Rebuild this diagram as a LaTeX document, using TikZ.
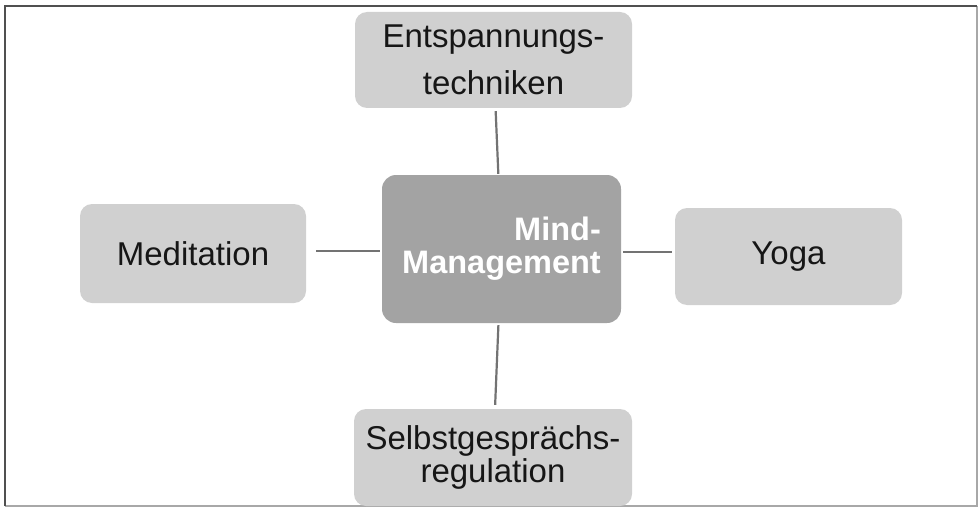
\documentclass[tikz,border=0pt]{standalone}
\usepackage{fontspec}
\setmainfont{Liberation Sans}
\begin{document}
\begin{tikzpicture}[x=1pt,y=-1pt,
  leaf/.style={fill=boxgray, rounded corners=12pt, inner sep=0pt, align=center,
    text=textdark, font=\fontsize{33}{40}\selectfont},
  hub/.style={fill=hubgray, rounded corners=14pt, inner sep=0pt, align=right,
    text=white, font=\fontsize{32.5}{33}\selectfont\bfseries},
  link/.style={draw=linegray, line width=2.2pt}]
\definecolor{boxgray}{HTML}{D0D0D0}
\definecolor{hubgray}{HTML}{A3A3A3}
\definecolor{textdark}{HTML}{161616}
\definecolor{linegray}{HTML}{737373}
\definecolor{framedark}{HTML}{505050}
\definecolor{framelight}{HTML}{A8A8A8}
\useasboundingbox (0,0) rectangle (979,508);
% outer frame
\draw[framelight, line width=2pt] (5,506) -- (977,506) -- (977,6);
\draw[framedark, line width=2.5pt] (5,506) -- (5,6) -- (977,6);
% boxes
\node[hub, minimum width=239pt, minimum height=148pt] (hub) at (501.5,249) {Mind-\\Management};
\node[leaf, minimum width=277pt, minimum height=96pt, font=\fontsize{33}{47}\selectfont] (top) at (493.5,60) {Entspannungs-\\techniken};
\node[leaf, minimum width=226pt, minimum height=99pt] (left) at (193,253.5) {Meditation};
\node[leaf, minimum width=227pt, minimum height=97pt] (right) at (788.5,256.5) {Yoga};
\node[leaf, minimum width=278pt, minimum height=97pt, font=\fontsize{33}{33}\selectfont] (bottom) at (493,457.5) {Selbstgesprächs-\\regulation};
% side joints on the hub
\coordinate (hubW) at ([yshift=-2pt]hub.west);
\coordinate (hubE) at ([yshift=-3pt]hub.east);
% connectors
\draw[link, shorten <=3pt, shorten >=1pt] (top) -- (hub);
\draw[link, shorten <=2pt, shorten >=4pt] (hub) -- (bottom);
\draw[link, shorten <=10pt, shorten >=2pt] (left.east |- hubW) -- (hubW);
\draw[link, shorten <=2pt, shorten >=3pt] (hubE) -- (right.west |- hubE);
\end{tikzpicture}
\end{document}
